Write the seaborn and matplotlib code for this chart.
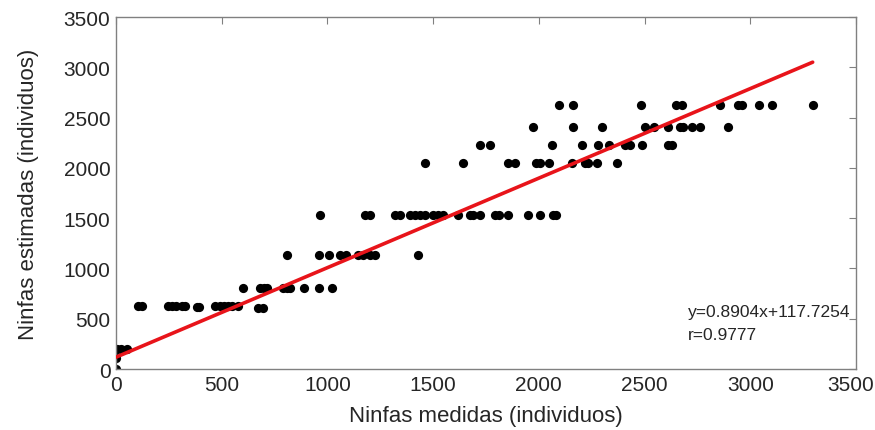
import numpy as np
import pandas as pd
import seaborn as sns
import matplotlib.pyplot as plt
import matplotlib.transforms as mtransforms

x_low = [0, 0, 5, 25, 50]
y_low = [0, 110, 200, 200, 200]

x_630 = [104, 123, 246, 265, 284, 312, 326, 383, 393, 468, 490, 510, 530, 550, 575, 672, 695]
y_630 = [630, 630, 630, 630, 630, 630, 630, 620, 620, 630, 630, 630, 630, 630, 630, 610, 610]

x_810 = [601, 680, 700, 715, 790, 808, 823, 889, 960, 1022]
x_1130 = [809, 960, 1008, 1060, 1088, 1145, 1168, 1202, 1225, 1429]
x_1530 = [965, 1178, 1202, 1320, 1343, 1391, 1414, 1438, 1462, 1500, 1523, 1547,
          1618, 1675, 1689, 1722, 1793, 1812, 1854, 1949, 2006, 2067, 2081]
x_2050 = [1462, 1642, 1854, 1887, 1987, 2006, 2048, 2157, 2218, 2233, 2275, 2370]
x_2230 = [1722, 1769, 2062, 2204, 2280, 2330, 2408, 2431, 2488, 2611, 2630]
x_2410 = [1972, 2162, 2299, 2502, 2545, 2611, 2668, 2682, 2725, 2762, 2895]
x_2630 = [2096, 2162, 2483, 2649, 2677, 2857, 2942, 2961, 3041, 3103, 3295]

slope = 0.8904
intercept = 117.7254
r_value = 0.9777

medidas = x_low + x_630
estimadas = y_low + y_630
for lvl, xs in [(810, x_810), (1130, x_1130), (1530, x_1530), (2050, x_2050),
                (2230, x_2230), (2410, x_2410), (2630, x_2630)]:
    medidas += xs
    estimadas += [lvl] * len(xs)

df = pd.DataFrame({'medidas': medidas, 'estimadas': estimadas})

sns.set_style('white')
plt.rcParams['font.family'] = ['Liberation Sans', 'DejaVu Sans']

fig = plt.figure(figsize=(8.75, 4.31), dpi=100)
ax = fig.add_axes([0.1326, 0.1415, 0.8457, 0.8165])

sns.scatterplot(data=df, x='medidas', y='estimadas', color='black', s=44,
                edgecolor='black', linewidth=0, ax=ax, zorder=2)

# regression line
xl = np.array([0, max(medidas)])
line_df = pd.DataFrame({'x': xl, 'y': slope * xl + intercept})
sns.lineplot(data=line_df, x='x', y='y', color='#e8141a', linewidth=2.6, ax=ax, zorder=3)

ax.set_xlim(0, 3500)
ax.set_ylim(0, 3500)
ax.set_xticks(np.arange(0, 3501, 500))
ax.set_yticks(np.arange(0, 3501, 500))
ax.tick_params(direction='in', length=5, width=0.8, color='#808080',
               top=True, right=True, labelsize=15, pad=4)
for sp in ax.spines.values():
    sp.set_color('#808080')
    sp.set_linewidth(1.0)

# keep the last x tick label inside the figure
last = ax.get_xticklabels()[-1]
last.set_transform(last.get_transform() + mtransforms.ScaledTranslation(-5 / 100, 0, fig.dpi_scale_trans))

ax.set_xlabel('Ninfas medidas (individuos)', fontsize=16, labelpad=8)
ax.set_ylabel('Ninfas estimadas (individuos)', fontsize=16, labelpad=18)

ax.text(2706, 571, f'y={slope}x+{intercept}', fontsize=12.5, va='center', ha='left')
ax.text(2706, 341, f'r={r_value}', fontsize=12.5, va='center', ha='left')

fig.savefig('out.png', dpi=100)
